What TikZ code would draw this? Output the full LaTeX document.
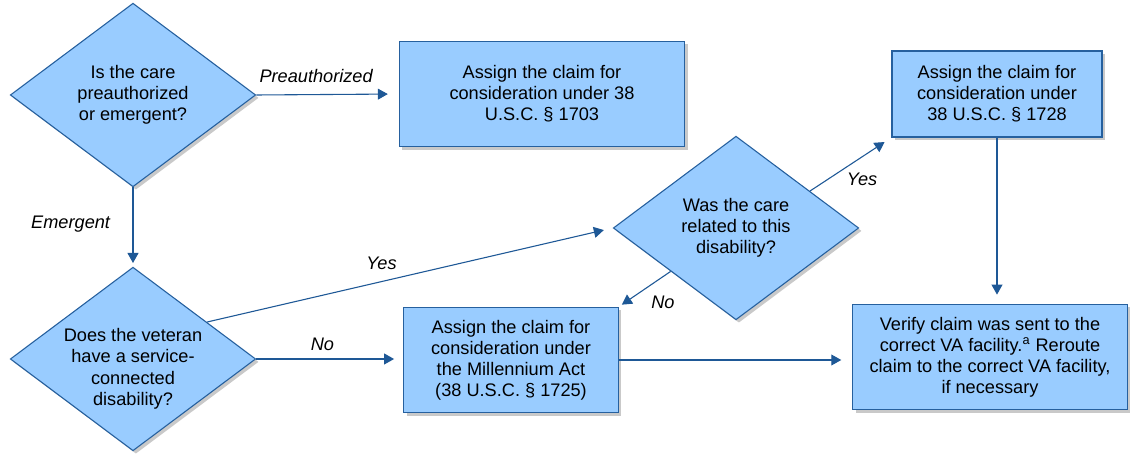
\documentclass[tikz,border=0pt]{standalone}
\usepackage{fontspec}
\setmainfont{Liberation Sans}
\usetikzlibrary{shapes.geometric,arrows.meta,shadows,calc}
\definecolor{boxfill}{RGB}{153,204,255}
\definecolor{boxline}{RGB}{38,96,158}
\definecolor{flowline}{RGB}{30,88,150}

\begin{document}
\begin{tikzpicture}[x=0.55pt, y=-0.55pt,
  font=\fontsize{10}{11.6}\selectfont,
  boxshadow/.style={drop shadow={shadow xshift=1.6pt,shadow yshift=-1.6pt,opacity=.3,fill=black!70}},
  decision/.style={diamond, draw=boxline, fill=boxfill, line width=0.6pt, inner sep=-6pt, aspect=1.34,
    minimum width=135pt, minimum height=101pt, align=center, boxshadow},
  action/.style={rectangle, draw=boxline, fill=boxfill, line width=0.6pt, align=center, boxshadow},
  flow/.style={draw=flowline, line width=0.6pt, -{Triangle[length=5.5pt,width=6pt]}},
  answer/.style={font=\fontsize{10}{11.6}\selectfont\itshape}]
\useasboundingbox (0,0) rectangle (1131,456);
\node[decision] (care) at (133,95) {Is the care\\preauthorized\\or emergent?};
\node[decision] (veteran) at (133,359) {\rule{0pt}{18pt}Does the veteran\\have a service-\\connected\\disability?};
\node[decision] (related) at (736,228) {Was the care\\related to this\\disability?};
\node[action, minimum width=157pt, minimum height=58pt] (sec1703) at (542,94)
  {Assign the claim for\\consideration under 38\\U.S.C. \S\ 1703};
\node[action, minimum width=115.5pt, minimum height=47.3pt] (sec1728) at (997,94)
  {Assign the claim for\\consideration under\\38 U.S.C. \S\ 1728};
\node[action, minimum width=118pt, minimum height=58pt] (sec1725) at (511,360)
  {Assign the claim for\\consideration under\\the Millennium Act\\(38 U.S.C. \S\ 1725)};
\node[action, minimum width=151pt, minimum height=58pt] (verify) at (990,357)
  {Verify claim was sent to the\\correct VA facility.\textsuperscript{a} Reroute\\claim to the correct VA facility,\\if necessary};
% connectors
\draw[flow, shorten >=6pt] (care.east) -- node[answer, above=3pt, pos=0.42] (lpre) {Preauthorized} (sec1703.west);
\draw[flow, shorten >=2pt] (care.south) -- node[answer, left=9pt, pos=0.46] (lemer) {Emergent} (veteran.north);
\draw[flow, shorten >=5pt] ($(veteran.north)!0.6!(veteran.east)$) -- node[answer, above=3pt, pos=0.43] (lyes1) {Yes} (related.west);
\draw[flow, shorten >=5pt] (veteran.east) -- node[answer, above=1pt, pos=0.45] (lno1) {No} (veteran.east -| sec1725.west);
\draw[flow, shorten >=2pt] ($(related.west)!0.47!(related.south)$) -- node[answer, below right, pos=0.5] (lno2) {No} (sec1725.north east);
\draw[flow, shorten >=4.5pt] ($(related.north)!0.6!(related.east)$) -- node[answer, below=5pt, pos=0.64] (lyes2) {Yes} (sec1728.south west);
\draw[flow, shorten >=5pt] (sec1728.south) -- (sec1728.south |- verify.north);
\draw[flow, shorten >=6pt] (sec1725.east) -- (sec1725.east -| verify.west);
\end{tikzpicture}
\end{document}
